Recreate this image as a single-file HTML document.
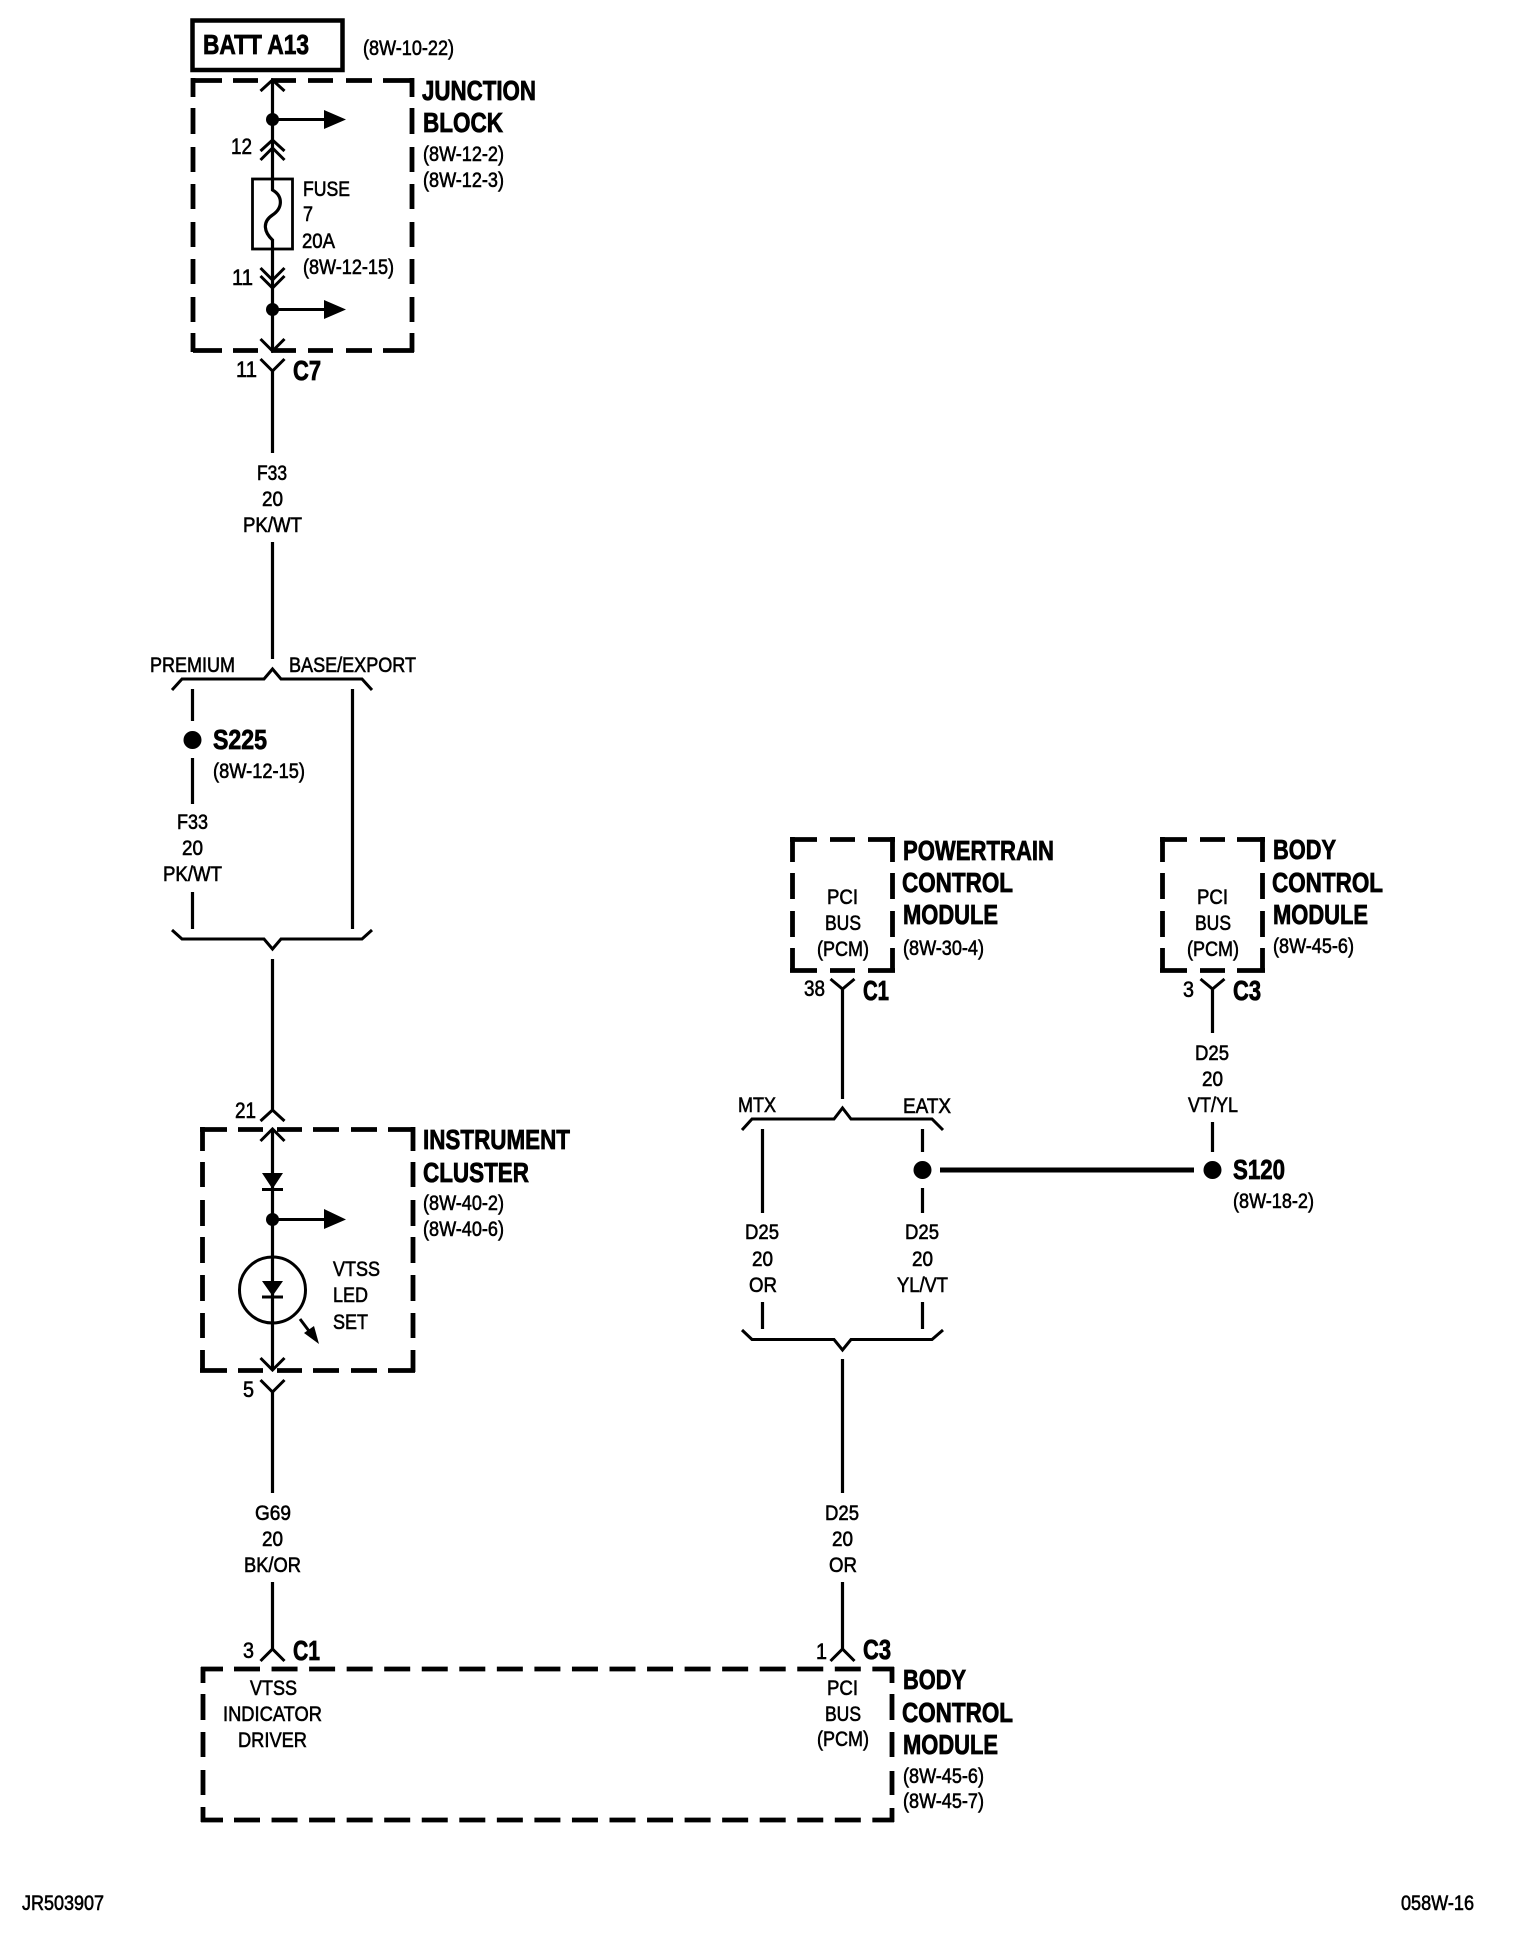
<!DOCTYPE html>
<html><head><meta charset="utf-8"><title>Wiring diagram</title>
<style>
html,body{margin:0;padding:0;background:#fff}
svg{display:block}
text{font-family:"Liberation Sans",sans-serif;fill:#000;stroke:#000}
.s{font-size:21px;stroke-width:.6px}
.n{font-size:22px;stroke-width:.6px}
.b{font-size:28px;font-weight:bold;stroke-width:.8px}
.w{fill:none;stroke:#000;stroke-width:3.2}
.t{fill:none;stroke:#000;stroke-width:3}
.d{fill:none;stroke:#000;stroke-width:4.800}
.k{fill:#000;stroke:none}
</style></head><body>
<svg width="1520" height="1950" viewBox="0 0 1520 1950" xmlns="http://www.w3.org/2000/svg">
<rect width="1520" height="1950" fill="#fff"/>

<!-- dashed boxes -->
<path class="d" d="M193 80.500H222M233 80.500H258M271 80.500H296M308 80.500H333M346 80.500H372M383 80.500H414M193 350.500H222M233 350.500H258M271 350.500H296M308 350.500H333M346 350.500H372M383 350.500H414M193 78V97M193 108V134M193 147V172M193 184V209M193 222V247M193 259V284M193 297V322M193 333V352M412 78V97M412 108V134M412 147V172M412 184V209M412 222V247M412 259V284M412 297V322M412 333V352"/>
<path class="d" d="M200 1129.500H227M238 1129.500H263M277 1129.500H302M313 1129.500H339M351 1129.500H377M388 1129.500H415M200 1370.500H227M238 1370.500H263M277 1370.500H302M313 1370.500H339M351 1370.500H377M388 1370.500H415M202.500 1127V1151M202.500 1162V1187M202.500 1200V1226M202.500 1237V1263M202.500 1275V1301M202.500 1313V1338M202.500 1350V1372M413 1127V1151M413 1162V1187M413 1200V1226M413 1237V1263M413 1275V1301M413 1313V1338M413 1350V1372"/>
<path class="d" d="M790 839.500H817M830 839.500H855M868 839.500H895M790 970.500H817M830 970.500H855M868 970.500H895M792.500 837V862M792.500 873V899M792.500 911V937M792.500 948V972M892.500 837V862M892.500 873V899M892.500 911V937M892.500 948V972"/>
<path class="d" d="M1160 839.500H1187M1200 839.500H1225M1237 839.500H1265M1160 970.500H1187M1200 970.500H1225M1237 970.500H1265M1162.500 837V862M1162.500 873V899M1162.500 911V937M1162.500 948V972M1262.500 837V862M1262.500 873V899M1262.500 911V937M1262.500 948V972"/>
<path class="d" d="M201 1669H223M201 1820H223M203 1667V1683M203 1694V1720M203 1732V1757M203 1770V1795M203 1807V1822M892 1667V1683M892 1694V1720M892 1732V1757M892 1771V1795M892 1808V1822"/>
<path class="d" stroke-dasharray="26 11.55" d="M234 1669H894M234 1820H894"/>

<!-- BATT box -->
<rect x="192.500" y="20.500" width="150" height="49.500" fill="none" stroke="#000" stroke-width="4.500"/>

<!-- main wire, junction block -->
<path class="w" d="M272.500 81V190C283 196 283 208 272.500 215C262 222 264 232 272.500 240V351"/>
<path class="t" d="M260.500 91L272.500 80L284.500 91M260.500 151L272.500 140L284.500 151M260.500 160L272.500 148L284.500 160M260.500 268L272.500 280L284.500 268M260.500 276L272.500 288L284.500 276M260.500 339L272.500 351L284.500 339M260.500 359L272.500 371L284.500 359"/>
<rect x="252.500" y="179" width="40" height="70" fill="none" stroke="#000" stroke-width="2.800"/>
<circle class="k" cx="272.500" cy="119.500" r="6.500"/><circle class="k" cx="272.500" cy="309.500" r="6.500"/>
<path class="t" d="M272 119.500H326M272 309.500H326"/>
<path class="k" d="M324 110L346 119.500L324 129ZM324 300L346 309.500L324 319Z"/>
<path class="w" d="M272.500 370V453M272.500 542V659"/>

<!-- top bracket left -->
<path class="t" d="M172 690L182 679H264L272.500 669L281 679H362L372 690"/>
<path class="w" d="M192.500 689V721M192.500 758V804M192.500 892V929M352.500 689V929"/>
<circle class="k" cx="192.500" cy="740" r="9"/>
<path class="t" d="M172 930L182 939H264L272.500 949L281 939H362L372 930"/>
<path class="w" d="M272.500 959V1110"/>

<!-- instrument cluster -->
<path class="t" d="M260.500 1121L272.500 1110L284.500 1121M260.500 1141L272.500 1129L284.500 1141M260.500 1358L272.500 1370L284.500 1358M260.500 1380L272.500 1392L284.500 1380"/>
<path class="w" d="M272.500 1129V1370M272.500 1391V1493M272.500 1582V1649"/>
<path class="k" d="M262 1173H283L272.500 1189ZM262 1281H283L272.500 1296Z"/>
<path class="t" d="M262 1189.500H283M262 1297H283"/>
<circle class="k" cx="272.500" cy="1219.500" r="6.500"/>
<path class="t" d="M272 1219.500H326"/>
<path class="k" d="M324 1209L346 1219.500L324 1229Z"/>
<circle cx="272.500" cy="1290" r="33" fill="none" stroke="#000" stroke-width="3"/>
<path class="t" d="M300 1319L312 1335"/>
<path class="k" d="M319 1344L304 1333L314 1326Z"/>
<path class="t" d="M260.500 1661L272.500 1649L284.500 1661"/>

<!-- PCM / right side -->
<path class="t" d="M830.500 979L842.500 989L854.500 979M830.500 1661L842.500 1649L854.500 1661M1200.500 979L1212.500 989L1224.500 979"/>
<path class="w" d="M842.500 988V1099M842.500 1359V1493M842.500 1582V1649M1212.500 988V1033M1212.500 1122V1152"/>
<path class="t" d="M742 1130L752 1119H834L842.500 1108L851 1119H932L943 1130"/>
<path class="w" d="M762.500 1129V1213M762.500 1302V1329M922.500 1129V1152M922.500 1188V1213M922.500 1302V1329"/>
<circle class="k" cx="922.500" cy="1170" r="9"/><circle class="k" cx="1212.500" cy="1170" r="9"/>
<path d="M940 1170H1194" fill="none" stroke="#000" stroke-width="5"/>
<path class="t" d="M742 1330L752 1339.500H834L842.500 1350L851 1339.500H932L943 1330"/>

<!-- labels: top -->
<text class="b" x="203" y="54" textLength="106" lengthAdjust="spacingAndGlyphs">BATT A13</text>
<text class="s" x="363" y="55" textLength="91" lengthAdjust="spacingAndGlyphs">(8W-10-22)</text>
<text class="b" x="422" y="100" textLength="114" lengthAdjust="spacingAndGlyphs">JUNCTION</text>
<text class="b" x="423" y="132" textLength="80" lengthAdjust="spacingAndGlyphs">BLOCK</text>
<text class="s" x="423" y="161" textLength="81" lengthAdjust="spacingAndGlyphs">(8W-12-2)</text>
<text class="s" x="423" y="187" textLength="81" lengthAdjust="spacingAndGlyphs">(8W-12-3)</text>
<text class="n" x="231" y="154" textLength="21" lengthAdjust="spacingAndGlyphs">12</text>
<text class="s" x="303" y="196" textLength="47" lengthAdjust="spacingAndGlyphs">FUSE</text>
<text class="s" x="303" y="221" textLength="10" lengthAdjust="spacingAndGlyphs">7</text>
<text class="s" x="302" y="248" textLength="33" lengthAdjust="spacingAndGlyphs">20A</text>
<text class="s" x="303" y="274" textLength="91" lengthAdjust="spacingAndGlyphs">(8W-12-15)</text>
<text class="n" x="232" y="285" textLength="21" lengthAdjust="spacingAndGlyphs">11</text>
<text class="n" x="236" y="377" textLength="21" lengthAdjust="spacingAndGlyphs">11</text>
<text class="b" x="293" y="380" textLength="28" lengthAdjust="spacingAndGlyphs">C7</text>
<text class="s" x="257" y="480" textLength="30" lengthAdjust="spacingAndGlyphs">F33</text>
<text class="s" x="262" y="506" textLength="21" lengthAdjust="spacingAndGlyphs">20</text>
<text class="s" x="243" y="532" textLength="59" lengthAdjust="spacingAndGlyphs">PK/WT</text>
<text class="s" x="150" y="672" textLength="85" lengthAdjust="spacingAndGlyphs">PREMIUM</text>
<text class="s" x="289" y="672" textLength="127" lengthAdjust="spacingAndGlyphs">BASE/EXPORT</text>
<text class="b" x="213" y="749" textLength="54" lengthAdjust="spacingAndGlyphs">S225</text>
<text class="s" x="213" y="778" textLength="92" lengthAdjust="spacingAndGlyphs">(8W-12-15)</text>
<text class="s" x="177" y="829" textLength="31" lengthAdjust="spacingAndGlyphs">F33</text>
<text class="s" x="182" y="855" textLength="21" lengthAdjust="spacingAndGlyphs">20</text>
<text class="s" x="163" y="881" textLength="59" lengthAdjust="spacingAndGlyphs">PK/WT</text>

<!-- labels: cluster -->
<text class="n" x="235" y="1118" textLength="21" lengthAdjust="spacingAndGlyphs">21</text>
<text class="b" x="423" y="1149" textLength="147" lengthAdjust="spacingAndGlyphs">INSTRUMENT</text>
<text class="b" x="423" y="1182" textLength="106" lengthAdjust="spacingAndGlyphs">CLUSTER</text>
<text class="s" x="423" y="1210" textLength="81" lengthAdjust="spacingAndGlyphs">(8W-40-2)</text>
<text class="s" x="423" y="1236" textLength="81" lengthAdjust="spacingAndGlyphs">(8W-40-6)</text>
<text class="s" x="333" y="1276" textLength="47" lengthAdjust="spacingAndGlyphs">VTSS</text>
<text class="s" x="333" y="1302" textLength="35" lengthAdjust="spacingAndGlyphs">LED</text>
<text class="s" x="333" y="1329" textLength="35" lengthAdjust="spacingAndGlyphs">SET</text>
<text class="n" x="243" y="1397" textLength="11" lengthAdjust="spacingAndGlyphs">5</text>
<text class="s" x="255" y="1520" textLength="36" lengthAdjust="spacingAndGlyphs">G69</text>
<text class="s" x="262" y="1546" textLength="21" lengthAdjust="spacingAndGlyphs">20</text>
<text class="s" x="244" y="1572" textLength="57" lengthAdjust="spacingAndGlyphs">BK/OR</text>
<text class="n" x="243" y="1658" textLength="11" lengthAdjust="spacingAndGlyphs">3</text>
<text class="b" x="293" y="1660" textLength="27" lengthAdjust="spacingAndGlyphs">C1</text>
<text class="s" x="250" y="1695" textLength="47" lengthAdjust="spacingAndGlyphs">VTSS</text>
<text class="s" x="223" y="1721" textLength="99" lengthAdjust="spacingAndGlyphs">INDICATOR</text>
<text class="s" x="238" y="1747" textLength="69" lengthAdjust="spacingAndGlyphs">DRIVER</text>

<!-- labels: PCM -->
<text class="s" x="827" y="904" textLength="31" lengthAdjust="spacingAndGlyphs">PCI</text>
<text class="s" x="825" y="930" textLength="36" lengthAdjust="spacingAndGlyphs">BUS</text>
<text class="s" x="817" y="956" textLength="52" lengthAdjust="spacingAndGlyphs">(PCM)</text>
<text class="b" x="903" y="860" textLength="151" lengthAdjust="spacingAndGlyphs">POWERTRAIN</text>
<text class="b" x="902" y="892" textLength="111" lengthAdjust="spacingAndGlyphs">CONTROL</text>
<text class="b" x="903" y="924" textLength="95" lengthAdjust="spacingAndGlyphs">MODULE</text>
<text class="s" x="903" y="955" textLength="81" lengthAdjust="spacingAndGlyphs">(8W-30-4)</text>
<text class="n" x="804" y="996" textLength="21" lengthAdjust="spacingAndGlyphs">38</text>
<text class="b" x="863" y="1000" textLength="26" lengthAdjust="spacingAndGlyphs">C1</text>
<text class="s" x="738" y="1112" textLength="38" lengthAdjust="spacingAndGlyphs">MTX</text>
<text class="s" x="903" y="1113" textLength="48" lengthAdjust="spacingAndGlyphs">EATX</text>
<text class="s" x="745" y="1239" textLength="34" lengthAdjust="spacingAndGlyphs">D25</text>
<text class="s" x="752" y="1266" textLength="21" lengthAdjust="spacingAndGlyphs">20</text>
<text class="s" x="749" y="1292" textLength="28" lengthAdjust="spacingAndGlyphs">OR</text>
<text class="s" x="905" y="1239" textLength="34" lengthAdjust="spacingAndGlyphs">D25</text>
<text class="s" x="912" y="1266" textLength="21" lengthAdjust="spacingAndGlyphs">20</text>
<text class="s" x="897" y="1292" textLength="51" lengthAdjust="spacingAndGlyphs">YL/VT</text>
<text class="s" x="825" y="1520" textLength="34" lengthAdjust="spacingAndGlyphs">D25</text>
<text class="s" x="832" y="1546" textLength="21" lengthAdjust="spacingAndGlyphs">20</text>
<text class="s" x="829" y="1572" textLength="28" lengthAdjust="spacingAndGlyphs">OR</text>
<text class="n" x="816" y="1659" textLength="11" lengthAdjust="spacingAndGlyphs">1</text>
<text class="b" x="863" y="1659" textLength="28" lengthAdjust="spacingAndGlyphs">C3</text>
<text class="s" x="827" y="1695" textLength="31" lengthAdjust="spacingAndGlyphs">PCI</text>
<text class="s" x="825" y="1721" textLength="36" lengthAdjust="spacingAndGlyphs">BUS</text>
<text class="s" x="817" y="1746" textLength="52" lengthAdjust="spacingAndGlyphs">(PCM)</text>
<text class="b" x="903" y="1689" textLength="63" lengthAdjust="spacingAndGlyphs">BODY</text>
<text class="b" x="902" y="1722" textLength="111" lengthAdjust="spacingAndGlyphs">CONTROL</text>
<text class="b" x="903" y="1754" textLength="95" lengthAdjust="spacingAndGlyphs">MODULE</text>
<text class="s" x="903" y="1783" textLength="81" lengthAdjust="spacingAndGlyphs">(8W-45-6)</text>
<text class="s" x="903" y="1808" textLength="81" lengthAdjust="spacingAndGlyphs">(8W-45-7)</text>

<!-- labels: upper BCM -->
<text class="s" x="1197" y="904" textLength="31" lengthAdjust="spacingAndGlyphs">PCI</text>
<text class="s" x="1195" y="930" textLength="36" lengthAdjust="spacingAndGlyphs">BUS</text>
<text class="s" x="1187" y="956" textLength="52" lengthAdjust="spacingAndGlyphs">(PCM)</text>
<text class="b" x="1273" y="859" textLength="63" lengthAdjust="spacingAndGlyphs">BODY</text>
<text class="b" x="1272" y="892" textLength="111" lengthAdjust="spacingAndGlyphs">CONTROL</text>
<text class="b" x="1273" y="924" textLength="95" lengthAdjust="spacingAndGlyphs">MODULE</text>
<text class="s" x="1273" y="953" textLength="81" lengthAdjust="spacingAndGlyphs">(8W-45-6)</text>
<text class="n" x="1183" y="997" textLength="11" lengthAdjust="spacingAndGlyphs">3</text>
<text class="b" x="1233" y="1000" textLength="28" lengthAdjust="spacingAndGlyphs">C3</text>
<text class="s" x="1195" y="1060" textLength="34" lengthAdjust="spacingAndGlyphs">D25</text>
<text class="s" x="1202" y="1086" textLength="21" lengthAdjust="spacingAndGlyphs">20</text>
<text class="s" x="1188" y="1112" textLength="50" lengthAdjust="spacingAndGlyphs">VT/YL</text>
<text class="b" x="1233" y="1179" textLength="52" lengthAdjust="spacingAndGlyphs">S120</text>
<text class="s" x="1233" y="1208" textLength="81" lengthAdjust="spacingAndGlyphs">(8W-18-2)</text>

<!-- footer -->
<text class="s" x="22" y="1910" textLength="82" lengthAdjust="spacingAndGlyphs">JR503907</text>
<text class="s" x="1401" y="1910" textLength="73" lengthAdjust="spacingAndGlyphs">058W-16</text>
</svg>
</body></html>
